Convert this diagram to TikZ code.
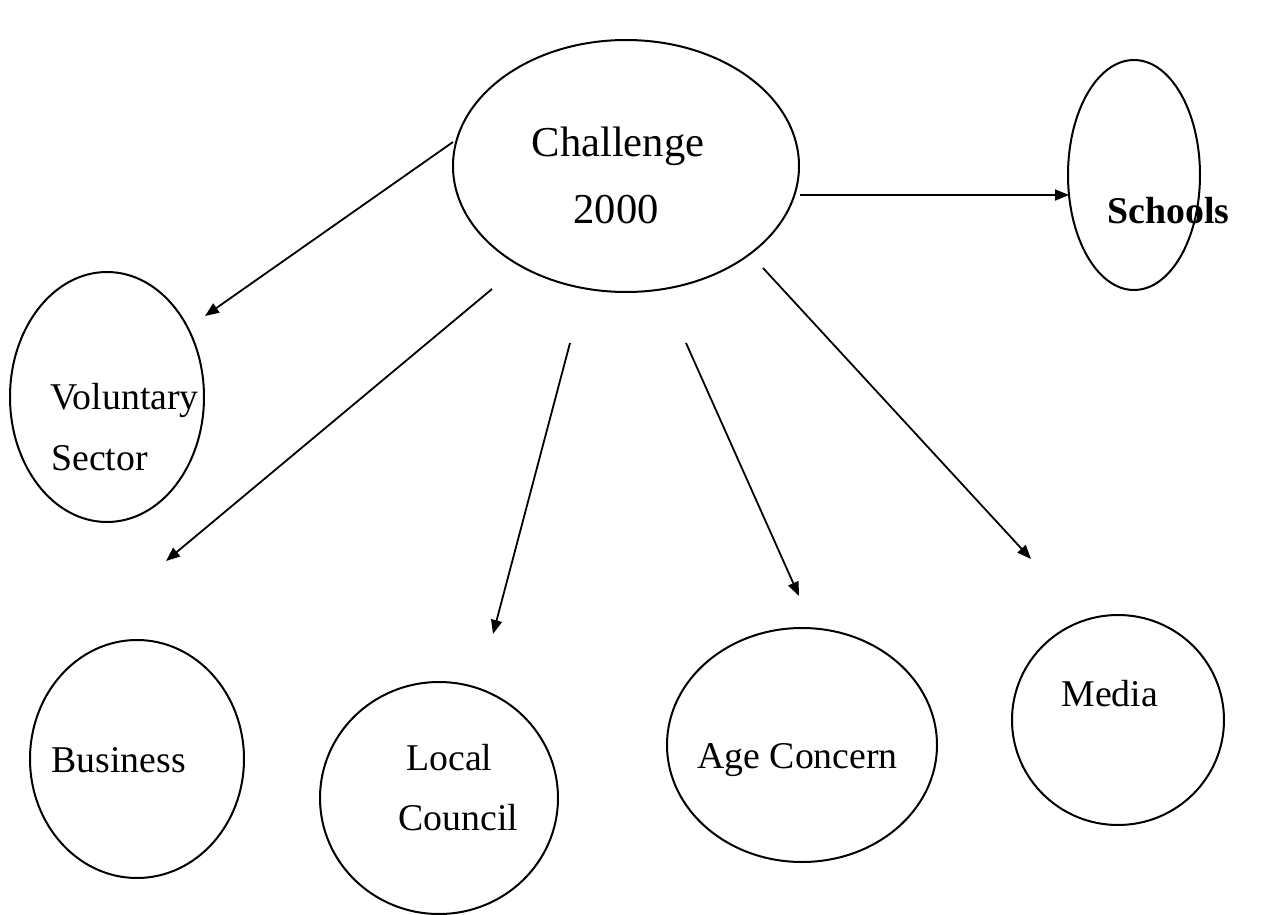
\documentclass[tikz,border=0pt]{standalone}
\usepackage{fontspec}
\setmainfont{Liberation Serif}
\usetikzlibrary{shapes.geometric,arrows.meta}
\begin{document}
\begin{tikzpicture}[x=0.5pt,y=-0.5pt,
  bubble/.style={draw,ellipse,line width=1pt,inner sep=0pt},
  label/.style={anchor=base west,inner sep=0pt,font=\fontsize{18.9}{22}\selectfont},
  biglabel/.style={anchor=base,inner sep=0pt,font=\fontsize{21.3}{25}\selectfont},
  link/.style={line width=0.9pt,-{Triangle[length=7pt,width=5.5pt]}}]
\useasboundingbox (0,0) rectangle (1265,915);

% ellipses (minimum sizes in pt equal the half-axes in units)
\node[bubble,minimum width=346pt/2,minimum height=252pt/2] (chal) at (626,166) {};
\node[bubble,minimum width=132pt/2,minimum height=230pt/2] (scho) at (1134,175) {};
\node[bubble,minimum width=194pt/2,minimum height=250pt/2] (volu) at (107,397) {};
\node[bubble,minimum width=214pt/2,minimum height=238pt/2] (busi) at (137,759) {};
\node[bubble,minimum width=238pt/2,minimum height=232pt/2] (loca) at (439,798) {};
\node[bubble,minimum width=270pt/2,minimum height=234pt/2] (agec) at (802,745) {};
\node[bubble,minimum width=212pt/2,minimum height=210pt/2] (medi) at (1118,720) {};

% labels
\node[biglabel] (t1) at (618,157) {Challenge};
\node[biglabel] (t2) at (616,224) {2000};
\node[label,font=\fontsize{18.9}{22}\selectfont\bfseries] (t3) at (1107,223) {Schools};
\node[label] (t4) at (50,409) {Voluntary};
\node[label] (t5) at (51,470) {Sector};
\node[label] (t6) at (51,772) {Business};
\node[label] (t7) at (406,770) {Local};
\node[label] (t8) at (398,830) {Council};
\node[label] (t9) at (697,768) {Age Concern};
\node[label] (t10) at (1061,706) {Media};

% free ends of the connectors
\coordinate (a1) at (453,142); \coordinate (b1) at (205,316);
\coordinate (a2) at (492,289); \coordinate (b2) at (166,561);
\coordinate (a3) at (570,343); \coordinate (b3) at (493,634);
\coordinate (a4) at (686,343); \coordinate (b4) at (799,596);
\coordinate (a5) at (763,268); \coordinate (b5) at (1031,559);
\coordinate (a6) at (800,195); \coordinate (b6) at (1069,195);

\draw[link] (a1) -- (b1);
\draw[link] (a2) -- (b2);
\draw[link] (a3) -- (b3);
\draw[link] (a4) -- (b4);
\draw[link] (a5) -- (b5);
\draw[link] (a6) -- (b6);
\end{tikzpicture}
\end{document}
